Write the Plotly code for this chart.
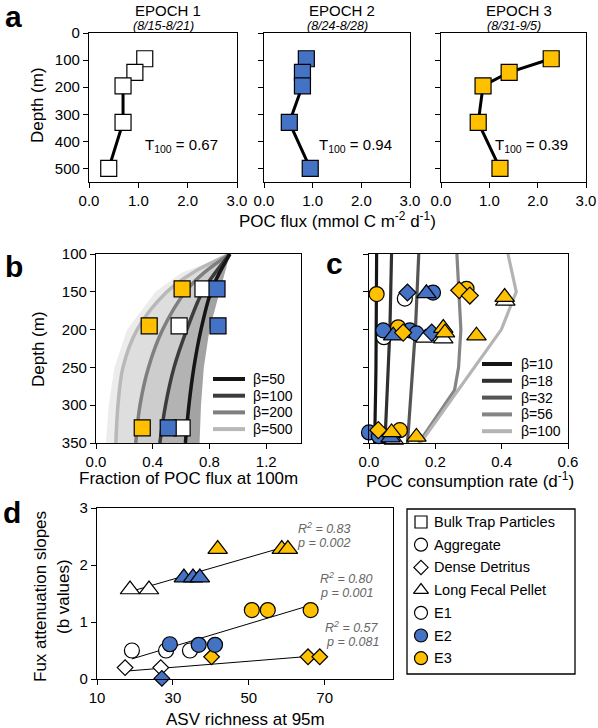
import plotly.graph_objects as go
import numpy as np

W, H = 598, 728
FONT = "Liberation Sans, Arial, sans-serif"
BLUE = "#4472C4"
GOLD = "#FFC000"
WHITE = "#FFFFFF"

# ---------------- data ----------------
# Panel a : POC flux profiles per epoch
a_depth = [95, 145, 195, 330, 500]
a_flux_e1 = [1.13, 0.93, 0.69, 0.69, 0.40]
a_flux_e2 = [0.87, 0.79, 0.79, 0.52, 0.95]
a_flux_e3 = [2.28, 1.41, 0.87, 0.77, 1.22]
a_titles = ["EPOCH 1", "EPOCH 2", "EPOCH 3"]
a_dates = ["(8/15-8/21)", "(8/24-8/28)", "(8/31-9/5)"]
a_t100 = ["0.67", "0.94", "0.39"]
a_yticks = [0, 100, 200, 300, 400, 500]
a_xticks = [0, 1, 2, 3]

# Panel b : fraction of POC flux at 100 m
b_depth = [100, 125, 150, 200, 250, 300, 350]
b_fan_left = [0.944, 0.60, 0.42, 0.22, 0.13, 0.09, 0.07]
b_beta500 = [0.944, 0.68, 0.50, 0.29, 0.19, 0.155, 0.14]
b_beta200 = [0.944, 0.76, 0.63, 0.47, 0.37, 0.31, 0.28]
b_beta100 = [0.944, 0.84, 0.75, 0.64, 0.55, 0.49, 0.45]
b_beta50 = [0.944, 0.87, 0.81, 0.74, 0.69, 0.655, 0.63]
b_fan_right = [0.944, 0.91, 0.87, 0.80, 0.76, 0.74, 0.73]
b_sq_depth = [146, 195, 330]
b_sq_e1 = [0.754, 0.586, 0.607]
b_sq_e2 = [0.853, 0.860, 0.509]
b_sq_e3 = [0.607, 0.375, 0.326]
b_legend = ["β=50", "β=100", "β=200", "β=500"]

# Panel c : POC consumption rate
c_depth = [100, 150, 200, 250, 280, 350]
c_beta10 = [0.023, 0.023, 0.022, 0.021, 0.020, 0.017]
c_beta18 = [0.068, 0.066, 0.063, 0.058, 0.055, 0.048]
c_beta32 = [0.150, 0.146, 0.140, 0.132, 0.127, 0.116]
c_beta56 = [0.265, 0.270, 0.277, 0.270, 0.258, 0.150]
c_beta100 = [0.419, 0.444, 0.399, 0.318, 0.270, 0.155]
c_legend = ["β=10", "β=18", "β=32", "β=56", "β=100"]

c_cir_e1_x = [0.108, 0.045]
c_cir_e1_y = [159, 210]
c_cir_e2_x = [0.193, 0.043, 0.123, 0.143, 0.000, 0.030]
c_cir_e2_y = [151, 201, 201, 205, 336, 341]
c_cir_e3_x = [0.023, 0.294, 0.088, 0.093]
c_cir_e3_y = [153, 146, 197, 333]
c_dia_e2_x = [0.116, 0.189]
c_dia_e2_y = [151, 204]
c_dia_e3_x = [0.272, 0.304, 0.103, 0.028]
c_dia_e3_y = [148, 155, 204, 333]
c_tri_e1_x = [0.411, 0.170, 0.224, 0.075]
c_tri_e1_y = [162, 211, 212, 346]
c_tri_e2_x = [0.173, 0.073, 0.065]
c_tri_e2_y = [152, 208, 343]
c_tri_e3_x = [0.409, 0.224, 0.229, 0.324, 0.068, 0.143]
c_tri_e3_y = [157, 198, 204, 208, 336, 342]

# Panel d : flux attenuation slopes vs ASV richness
d_tri_e1_x = [18.7, 23.7]
d_tri_e1_y = [1.57, 1.57]
d_tri_e2_x = [32.9, 35.3, 37.1]
d_tri_e2_y = [1.78, 1.78, 1.78]
d_tri_e3_x = [41.8, 58.7, 60.3]
d_tri_e3_y = [2.28, 2.28, 2.28]
d_cir_e1_x = [19.2, 28.2, 34.5]
d_cir_e1_y = [0.50, 0.50, 0.50]
d_cir_e2_x = [29.2, 36.8, 41.1]
d_cir_e2_y = [0.61, 0.60, 0.60]
d_cir_e3_x = [50.8, 55.0, 66.3]
d_cir_e3_y = [1.21, 1.21, 1.21]
d_dia_e1_x = [17.4, 26.8]
d_dia_e1_y = [0.20, 0.20]
d_dia_e2_x = [27.1]
d_dia_e2_y = [0.01]
d_dia_e3_x = [40.2, 65.6, 68.7]
d_dia_e3_y = [0.39, 0.39, 0.39]
d_stats = [("0.83", "0.002"), ("0.80", "0.001"), ("0.57", "0.081")]
d_legend_names = ["Bulk Trap Particles", "Aggregate", "Dense Detritus",
                  "Long Fecal Pellet", "E1", "E2", "E3"]

# ---------------- helpers ----------------
def dom_x(a, b):
    return [a / W, b / W]

def dom_y(top, bottom):
    return [1 - bottom / H, 1 - top / H]

def px(x):
    return x / W

def py(y):
    return 1 - y / H

base_axis = dict(showline=True, linecolor="black", linewidth=1.3, mirror=True,
                 ticks="outside", ticklen=5, tickwidth=1.3, tickcolor="black",
                 showgrid=False, zeroline=False, automargin=False,
                 tickfont=dict(size=15, color="black", family=FONT))

fig = go.Figure()
annotations = []
shapes = []

def ann(text, x, y, size=15, xanchor="center", yanchor="middle", angle=0,
        color="black", **kw):
    annotations.append(dict(text=text, x=px(x), y=py(y), xref="paper", yref="paper",
                            showarrow=False, xanchor=xanchor, yanchor=yanchor,
                            textangle=angle,
                            font=dict(size=size, color=color, family=FONT), **kw))

MLINE = dict(color="black", width=1.2)

# ---------------- panel a ----------------
a_dom_x = [(89, 237), (264, 410), (441, 586)]
a_fluxes = [a_flux_e1, a_flux_e2, a_flux_e3]
a_colors = [WHITE, BLUE, GOLD]
for i in range(3):
    n = "" if i == 0 else str(i + 1)
    fig.add_trace(go.Scatter(x=a_fluxes[i], y=a_depth, mode="lines+markers",
                             line=dict(color="black", width=3),
                             marker=dict(symbol="square", size=16, color=a_colors[i], line=MLINE),
                             xaxis="x" + n, yaxis="y" + n, showlegend=False, cliponaxis=False))
    fig.layout["xaxis" + n] = dict(base_axis, domain=dom_x(*a_dom_x[i]), range=[0, 3],
                                    tickvals=a_xticks, tickformat=".1f", anchor="y" + n)
    fig.layout["yaxis" + n] = dict(base_axis, domain=dom_y(33, 182), range=[550, 0],
                                    tickvals=a_yticks, anchor="x" + n,
                                    showticklabels=(i == 0))
    cx = (a_dom_x[i][0] + a_dom_x[i][1]) / 2
    ann(a_titles[i], cx + 5, 11, size=15)
    ann("<i>" + a_dates[i] + "</i>", cx, 26.5, size=12.5)
    ann("T<sub>100</sub> = " + a_t100[i], cx + 18, 146, size=15)

ann("Depth (m)", 38, 105, size=17, angle=-90)
ann("POC flux (mmol C m<sup>-2</sup> d<sup>-1</sup>)", 337, 220, size=17)
ann("<b>a</b>", 14, 16, size=30)

# ---------------- panel b ----------------
bands = [(b_fan_left, b_beta500, "#ececec"), (b_beta500, b_beta200, "#dedede"),
         (b_beta200, b_beta100, "#cdcdcd"), (b_beta100, b_beta50, "#b3b3b3"),
         (b_beta50, b_fan_right, "#a3a3a3")]
for left, right, col in bands:
    fig.add_trace(go.Scatter(x=list(left) + list(right)[::-1],
                             y=list(b_depth) + list(b_depth)[::-1],
                             mode="lines", fill="toself", fillcolor=col,
                             line=dict(width=0), xaxis="x4", yaxis="y4",
                             showlegend=False, hoverinfo="skip"))
b_lines = [(b_beta500, "#b8b8b8"), (b_beta200, "#7f7f7f"), (b_beta100, "#3c3c3c"),
           (b_beta50, "#151515")]
for vals, col in b_lines:
    fig.add_trace(go.Scatter(x=vals, y=b_depth, mode="lines",
                             line=dict(color=col, width=3.5, shape="spline"),
                             xaxis="x4", yaxis="y4", showlegend=False))
for vals, col in [(b_sq_e3, GOLD), (b_sq_e1, WHITE), (b_sq_e2, BLUE)]:
    fig.add_trace(go.Scatter(x=vals, y=b_sq_depth, mode="markers",
                             marker=dict(symbol="square", size=16, color=col, line=MLINE),
                             xaxis="x4", yaxis="y4", showlegend=False, cliponaxis=False))
fig.layout["xaxis4"] = dict(base_axis, domain=dom_x(96, 301), range=[0, 1.445],
                            tickvals=[0, 0.4, 0.8, 1.2], tickformat=".1f", anchor="y4")
fig.layout["yaxis4"] = dict(base_axis, domain=dom_y(254, 443), range=[350, 100],
                            tickvals=[100, 150, 200, 250, 300, 350], anchor="x4")
b_leg_cols = ["#151515", "#3c3c3c", "#7f7f7f", "#b8b8b8"]
for k, (lab, col) in enumerate(zip(b_legend, b_leg_cols)):
    yy = 379 + k * 16.7
    shapes.append(dict(type="line", xref="paper", yref="paper", x0=px(213), x1=px(245),
                       y0=py(yy), y1=py(yy), line=dict(color=col, width=4)))
    ann(lab, 251, yy, size=14, xanchor="left")
ann("Depth (m)", 38, 349, size=17, angle=-90)
ann("Fraction of POC flux at 100m", 188, 478, size=17)
ann("<b>b</b>", 14, 266, size=30)

# ---------------- panel c ----------------
c_lines = [(c_beta10, "#151515"), (c_beta18, "#303030"), (c_beta32, "#555555"),
           (c_beta56, "#858585"), (c_beta100, "#b4b4b4")]
for vals, col in c_lines:
    fig.add_trace(go.Scatter(x=vals, y=c_depth, mode="lines",
                             line=dict(color=col, width=3.2),
                             xaxis="x5", yaxis="y5", showlegend=False))
c_groups = [
    (c_cir_e1_x, c_cir_e1_y, "circle", WHITE, 15),
    (c_cir_e2_x, c_cir_e2_y, "circle", BLUE, 15),
    (c_cir_e3_x, c_cir_e3_y, "circle", GOLD, 15),
    (c_tri_e1_x, c_tri_e1_y, "triangle-up", WHITE, 17),
    (c_tri_e2_x, c_tri_e2_y, "triangle-up", BLUE, 17),
    (c_dia_e2_x, c_dia_e2_y, "diamond", BLUE, 13),
    (c_dia_e3_x, c_dia_e3_y, "diamond", GOLD, 13),
    (c_tri_e3_x, c_tri_e3_y, "triangle-up", GOLD, 17),
]
for xs, ys, sym, col, sz in c_groups:
    fig.add_trace(go.Scatter(x=xs, y=ys, mode="markers",
                             marker=dict(symbol=sym, size=sz, color=col, line=MLINE),
                             xaxis="x5", yaxis="y5", showlegend=False, cliponaxis=False))
fig.layout["xaxis5"] = dict(base_axis, domain=dom_x(369, 568), range=[0, 0.6],
                            tickvals=[0, 0.2, 0.4, 0.6], tickformat=".1f", anchor="y5")
fig.layout["yaxis5"] = dict(base_axis, domain=dom_y(254, 443), range=[350, 100],
                            tickvals=[100, 150, 200, 250, 300, 350], anchor="x5",
                            showticklabels=False)
c_leg_cols = ["#151515", "#303030", "#555555", "#858585", "#b4b4b4"]
for k, (lab, col) in enumerate(zip(c_legend, c_leg_cols)):
    yy = 364 + k * 16.8
    shapes.append(dict(type="line", xref="paper", yref="paper", x0=px(482), x1=px(512),
                       y0=py(yy), y1=py(yy), line=dict(color=col, width=4)))
    ann(lab, 519, yy, size=14, xanchor="left")
ann("POC consumption rate (d<sup>-1</sup>)", 470, 480, size=17)
ann("<b>c</b>", 334, 263, size=30)

# ---------------- panel d ----------------
fit_groups = [
    (d_tri_e1_x + d_tri_e2_x + d_tri_e3_x, d_tri_e1_y + d_tri_e2_y + d_tri_e3_y),
    (d_cir_e1_x + d_cir_e2_x + d_cir_e3_x, d_cir_e1_y + d_cir_e2_y + d_cir_e3_y),
    (d_dia_e1_x + d_dia_e2_x + d_dia_e3_x, d_dia_e1_y + d_dia_e2_y + d_dia_e3_y),
]
for xs, ys in fit_groups:
    k, b0 = np.polyfit(xs, ys, 1)
    xl = np.array([min(xs), max(xs)])
    fig.add_trace(go.Scatter(x=xl, y=k * xl + b0, mode="lines",
                             line=dict(color="black", width=1),
                             xaxis="x6", yaxis="y6", showlegend=False))
d_groups = [
    (d_dia_e1_x, d_dia_e1_y, "diamond", WHITE, 12),
    (d_dia_e2_x, d_dia_e2_y, "diamond", BLUE, 12),
    (d_dia_e3_x, d_dia_e3_y, "diamond", GOLD, 12),
    (d_cir_e1_x, d_cir_e1_y, "circle", WHITE, 15),
    (d_cir_e2_x, d_cir_e2_y, "circle", BLUE, 15),
    (d_cir_e3_x, d_cir_e3_y, "circle", GOLD, 15),
    (d_tri_e1_x, d_tri_e1_y, "triangle-up", WHITE, 17),
    (d_tri_e2_x, d_tri_e2_y, "triangle-up", BLUE, 17),
    (d_tri_e3_x, d_tri_e3_y, "triangle-up", GOLD, 17),
]
for xs, ys, sym, col, sz in d_groups:
    fig.add_trace(go.Scatter(x=xs, y=ys, mode="markers",
                             marker=dict(symbol=sym, size=sz, color=col, line=MLINE),
                             xaxis="x6", yaxis="y6", showlegend=False, cliponaxis=False))
fig.layout["xaxis6"] = dict(base_axis, domain=dom_x(97, 393), range=[10, 88],
                            tickvals=[10, 30, 50, 70], anchor="y6")
fig.layout["yaxis6"] = dict(base_axis, domain=dom_y(508, 679), range=[0, 3],
                            tickvals=[0, 1, 2, 3], anchor="x6")
stat_pos = [(324, 528), (347, 578), (352, 627)]
for (r2, pv), (sx, sy) in zip(d_stats, stat_pos):
    ann("<i>R<sup>2</sup> = " + r2 + "</i>", sx, sy, size=12.5, color="#666666")
    ann("<i>p = " + pv + "</i>", sx, sy + 15, size=12.5, color="#666666")
ann("ASV richness at 95m", 245, 719, size=17)
ann("Fux attenuation slopes", 40, 597, size=17, angle=-90)
ann("(b values)", 63, 597, size=17, angle=-90)
ann("<b>d</b>", 12, 512, size=30)

# legend box for panel d (overlay axis in pixel space)
shapes.append(dict(type="rect", xref="paper", yref="paper", x0=px(407), x1=px(575),
                   y0=py(674), y1=py(509), line=dict(color="black", width=1.3)))
leg_syms = [("square", WHITE, 12), ("circle", WHITE, 13), ("diamond", WHITE, 11),
            ("triangle-up", WHITE, 13), ("circle", WHITE, 13), ("circle", BLUE, 13),
            ("circle", GOLD, 13)]
leg_y = [522 + 22.7 * k for k in range(len(d_legend_names))]
for (sym, col, sz), yy, name in zip(leg_syms, leg_y, d_legend_names):
    fig.add_trace(go.Scatter(x=[421], y=[yy], mode="markers",
                             marker=dict(symbol=sym, size=sz, color=col, line=MLINE),
                             xaxis="x7", yaxis="y7", showlegend=False, cliponaxis=False))
    ann(name, 432, yy, size=14.5, xanchor="left")
fig.layout["xaxis7"] = dict(domain=[0, 1], range=[0, W], visible=False, anchor="y7",
                            fixedrange=True, automargin=False)
fig.layout["yaxis7"] = dict(domain=[0, 1], range=[H, 0], visible=False, anchor="x7",
                            fixedrange=True, automargin=False)

fig.update_layout(template="none", width=W, height=H,
                  margin=dict(l=0, r=0, t=0, b=0, pad=0, autoexpand=False),
                  paper_bgcolor="white", plot_bgcolor="rgba(0,0,0,0)",
                  font=dict(family=FONT, color="black"),
                  annotations=annotations, shapes=shapes, showlegend=False)
fig.write_html("out.html", config={"displayModeBar": False},
               post_script="document.body.style.margin='0px';document.body.style.padding='0px';")
